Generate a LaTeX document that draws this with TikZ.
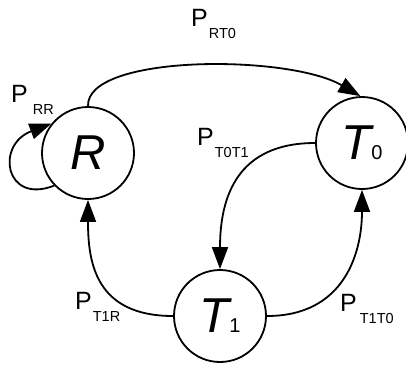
\documentclass[tikz,border=0pt]{standalone}
\usepackage{fontspec}
\setmainfont{Liberation Sans}
\usetikzlibrary{arrows.meta}
\newcommand{\plbl}[3]{{\fontsize{25}{25}\selectfont P}\kern#3pt\raisebox{-12.5pt}{\fontsize{14.5}{14.5}\selectfont #1}}
\newcommand{\stlbl}[2]{{\fontsize{49}{49}\selectfont\itshape #1}{\fontsize{20}{20}\selectfont #2}}
\begin{document}
\begin{tikzpicture}[x=1pt,y=-1pt,
  state/.style={circle,draw,line width=1.8pt,minimum size=92pt,inner sep=0pt,fill=white},
  conn/.style={line width=1.8pt,-{Triangle[length=22pt,width=16pt]}},
  plab/.style={anchor=base west,inner sep=0pt}]
\useasboundingbox (0,0) rectangle (406,365);
\node[state] (R) at (88,153) {\stlbl{R}{}};
\node[state] (T0) at (362,143) {\stlbl{T}{0}};
\node[state] (T1) at (220,316) {\stlbl{T}{1}};
\draw[conn] (R.90) .. controls +(-2,-52) and +(-72,-42) .. (T0.92);
\draw[conn] (T0.180) .. controls +(-78,0) and +(0,-72) .. (T1.90);
\draw[conn] (T1.180) .. controls +(-78,0) and +(0,62) .. (R.-90);
\draw[conn] (T1.0) .. controls +(78,0) and +(0,62) .. (T0.-90);
\draw[conn] (R.-136) .. controls (5,205) and (-5,145) .. (R.141);
\node[plab] (pRT0) at (191,26) {\plbl{RT0}{}{1}};
\node[plab] (pRR) at (11,102) {\plbl{RR}{}{5}};
\node[plab] (pT0T1) at (197,145) {\plbl{T0T1}{}{1}};
\node[plab] (pT1R) at (75,309) {\plbl{T1R}{}{1}};
\node[plab] (pT1T0) at (340,311) {\plbl{T1T0}{}{3}};
\end{tikzpicture}
\end{document}
